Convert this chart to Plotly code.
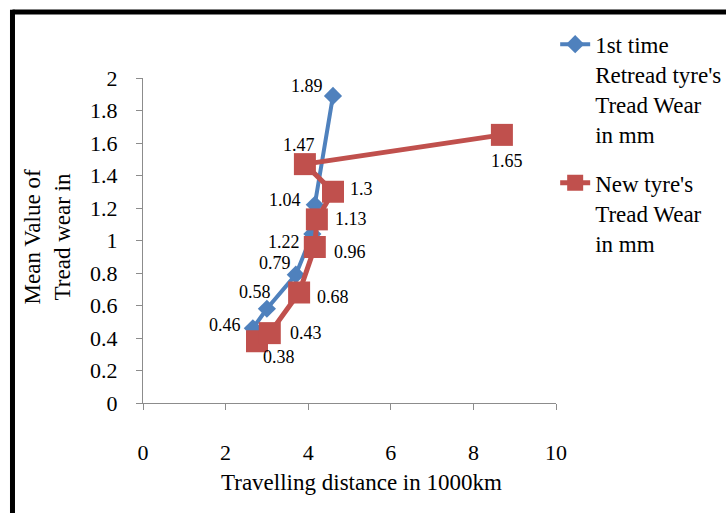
import plotly.graph_objects as go

# Tread wear measurements (mm) against travelling distance (1000 km)
retread_km = [2.66, 3.0, 3.7, 4.1, 4.16, 4.6]
retread_wear = [0.46, 0.58, 0.79, 1.04, 1.22, 1.89]

new_km = [2.76, 3.07, 3.78, 4.16, 4.21, 4.6, 3.92, 8.69]
new_wear = [0.38, 0.43, 0.68, 0.96, 1.13, 1.3, 1.47, 1.65]

x_ticks = [0, 2, 4, 6, 8, 10]
y_ticks = [0, 0.2, 0.4, 0.6, 0.8, 1, 1.2, 1.4, 1.6, 1.8, 2]

BLUE = "#4F81BD"
RED = "#C0504D"
FONT = "Liberation Serif"

# label placement per point: (xanchor, xshift, yshift) in pixels
retread_lbl = [("right", -10, 3), ("right", 6, 17), ("right", -3, 12),
               ("right", -9, 34), ("right", -13, -37), ("right", -8, 10)]
new_lbl = [("center", 22, -16), ("left", 18, 0), ("left", 16, -4),
           ("left", 17, -5), ("left", 16, 0), ("left", 15, 3),
           ("center", -6, 19), ("center", 5, -26)]

fig = go.Figure()
fig.add_trace(go.Scatter(
    x=retread_km, y=retread_wear, mode="lines+markers",
    name="1st time<br>Retread tyre's<br>Tread Wear<br>in mm",
    legendgroup="a",
    line=dict(color=BLUE, width=4),
    marker=dict(symbol="diamond", size=14, color=BLUE),
))
fig.add_trace(go.Scatter(
    x=new_km, y=new_wear, mode="lines+markers",
    name="New tyre's<br>Tread Wear<br>in mm",
    legendgroup="b",
    line=dict(color=RED, width=5),
    marker=dict(symbol="square", size=22, color=RED),
))

annotations = []
for xs, ys, lbls in ((retread_km, retread_wear, retread_lbl),
                     (new_km, new_wear, new_lbl)):
    for xv, yv, (anc, dx, dy) in zip(xs, ys, lbls):
        annotations.append(dict(
            x=xv, y=yv, xref="x", yref="y", text=f"{yv:g}",
            showarrow=False, xanchor=anc, yanchor="middle",
            xshift=dx, yshift=dy,
            font=dict(family=FONT, size=18, color="#000"),
        ))

# axis titles
annotations.append(dict(
    x=0.528, y=-0.245, xref="paper", yref="paper",
    text="Travelling distance in 1000km", showarrow=False,
    xanchor="center", yanchor="middle",
    font=dict(family=FONT, size=23, color="#000"),
))
annotations.append(dict(
    x=-0.232, y=0.51, xref="paper", yref="paper",
    text="Mean Value of<br>Tread wear in", showarrow=False,
    textangle=-90, xanchor="center", yanchor="middle",
    font=dict(family=FONT, size=23, color="#000"),
))

fig.update_layout(
    width=726, height=513,
    margin=dict(l=143, r=170, t=78, b=110, autoexpand=False),
    paper_bgcolor="white", plot_bgcolor="white",
    font=dict(family=FONT, size=22, color="#000"),
    showlegend=True,
    legend=dict(
        x=0.998, y=1.17, xanchor="left", yanchor="top",
        valign="top", tracegroupgap=16,
        font=dict(family=FONT, size=23, color="#000"),
        bgcolor="rgba(0,0,0,0)",
    ),
    xaxis=dict(
        range=[0, 10], tickvals=x_ticks, ticktext=[str(v) for v in x_ticks],
        showgrid=False, zeroline=False, showline=True,
        linecolor="#8c8c8c", linewidth=1.3,
        ticks="outside", ticklen=6, tickcolor="#8c8c8c", tickwidth=1.3,
        ticklabelstandoff=23,
    ),
    yaxis=dict(
        range=[0, 2], tickvals=y_ticks, ticktext=[f"{v:g}" for v in y_ticks],
        showgrid=False, zeroline=False, showline=True,
        linecolor="#8c8c8c", linewidth=1.3,
        ticks="outside", ticklen=6, tickcolor="#8c8c8c", tickwidth=1.3,
        ticklabelstandoff=14,
    ),
    annotations=annotations,
    shapes=[
        dict(type="line", xref="paper", yref="paper",
             x0=-0.316, x1=1.6, y0=1.203, y1=1.203,
             line=dict(color="black", width=5)),
        dict(type="line", xref="paper", yref="paper",
             x0=-0.316, x1=-0.316, y0=1.21, y1=-0.5,
             line=dict(color="black", width=5)),
    ],
)

fig.write_html("out.html")
